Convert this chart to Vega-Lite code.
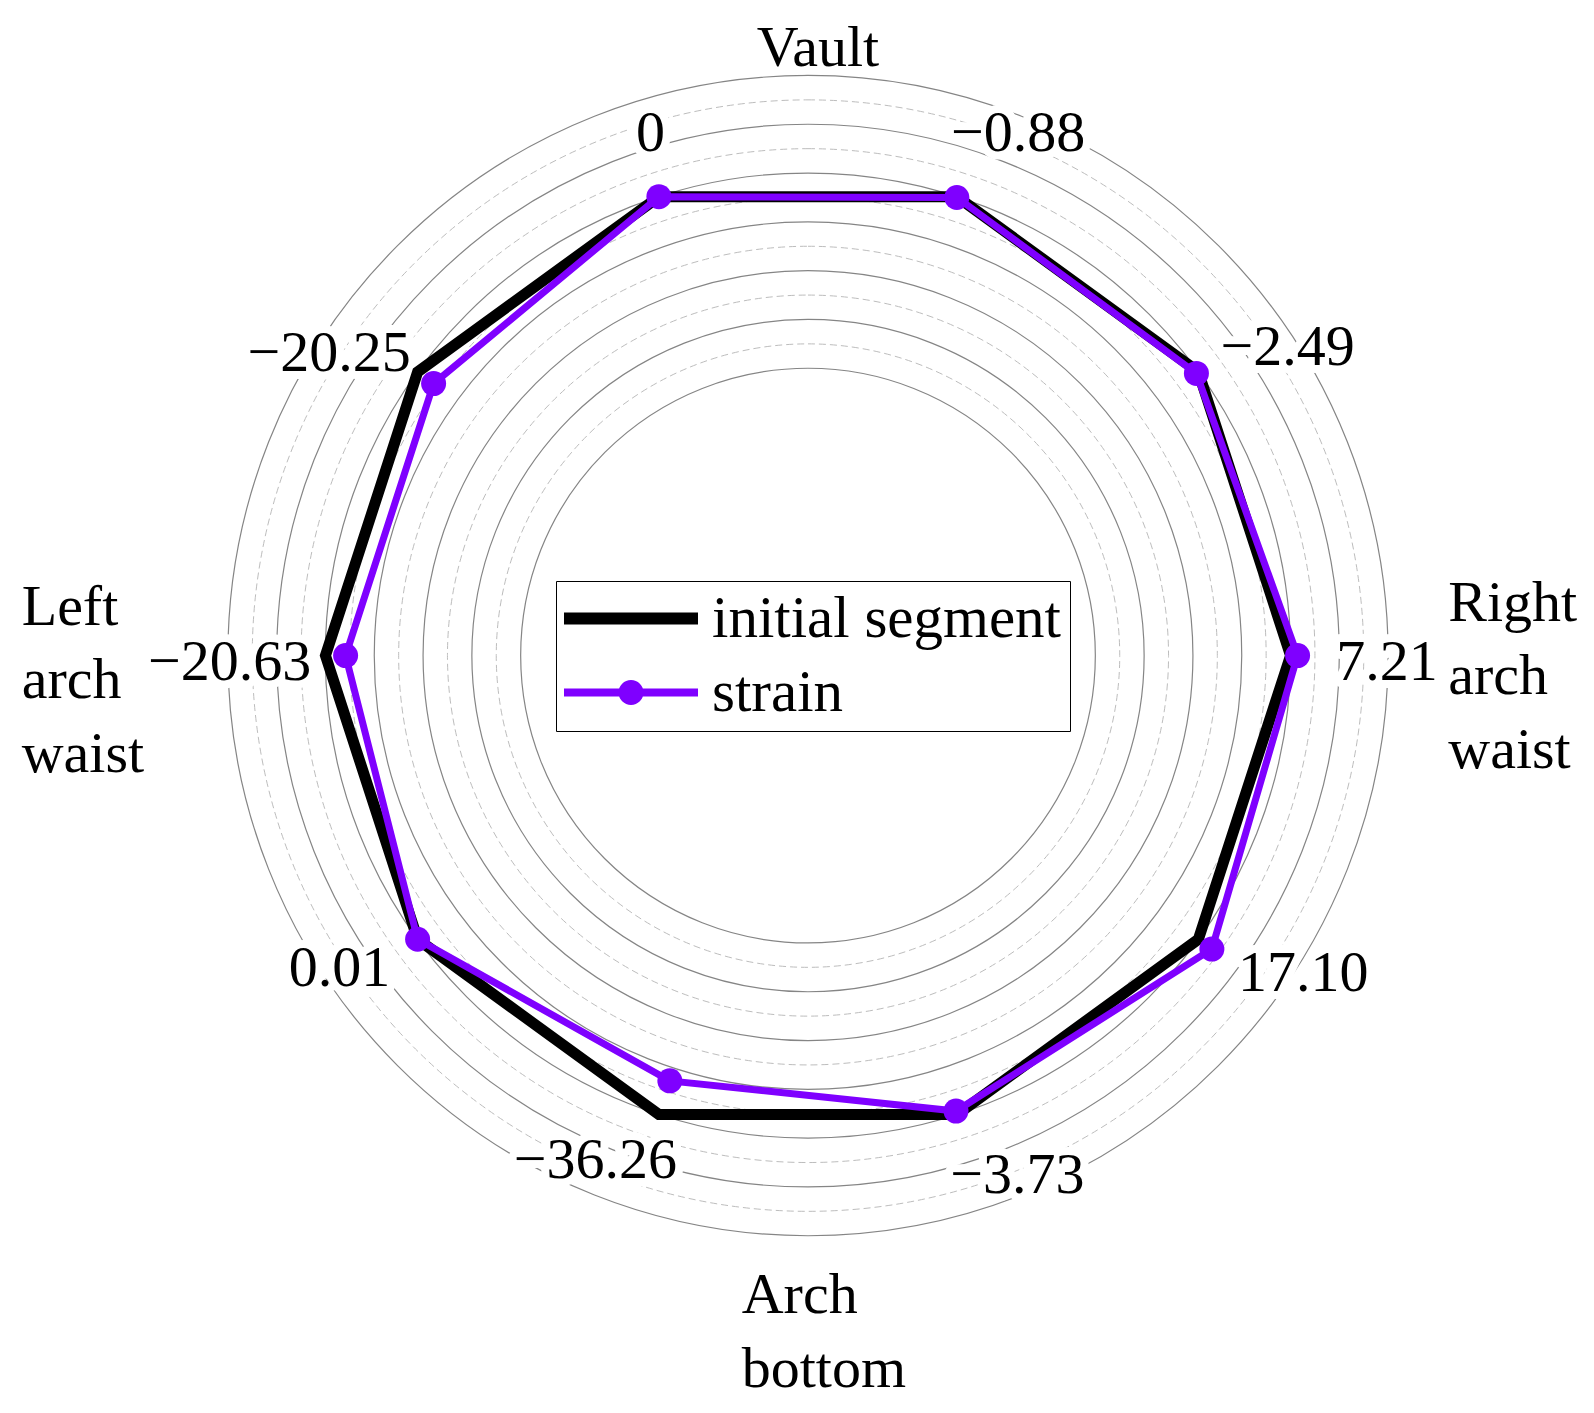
{
  "$schema": "https://vega.github.io/schema/vega-lite/v6.json",
  "width": 1594,
  "height": 1413,
  "padding": 0,
  "autosize": {"type": "none"},
  "background": "white",
  "config": {
    "view": {"stroke": null},
    "legend": {
      "orient": "none",
      "legendX": 556,
      "legendY": 581,
      "padding": 8,
      "strokeColor": "#000000",
      "symbolSize": 1600,
      "symbolOpacity": 1,
      "labelOffset": 89,
      "labelFont": "Liberation Serif",
      "labelFontSize": 59,
      "labelColor": "#000000",
      "labelLimit": 1000,
      "rowPadding": 14
    }
  },
  "datasets": {
    "pts": [
      {"series": "initial segment", "spoke": 0, "value": 0},
      {"series": "initial segment", "spoke": 1, "value": 0},
      {"series": "initial segment", "spoke": 2, "value": 0},
      {"series": "initial segment", "spoke": 3, "value": 0},
      {"series": "initial segment", "spoke": 4, "value": 0},
      {"series": "initial segment", "spoke": 5, "value": 0},
      {"series": "initial segment", "spoke": 6, "value": 0},
      {"series": "initial segment", "spoke": 7, "value": 0},
      {"series": "initial segment", "spoke": 8, "value": 0},
      {"series": "initial segment", "spoke": 9, "value": 0},
      {"series": "strain", "spoke": 0, "value": 0},
      {"series": "strain", "spoke": 1, "value": -0.88},
      {"series": "strain", "spoke": 2, "value": -2.49},
      {"series": "strain", "spoke": 3, "value": 7.21},
      {"series": "strain", "spoke": 4, "value": 17.10},
      {"series": "strain", "spoke": 5, "value": -3.73},
      {"series": "strain", "spoke": 6, "value": -36.26},
      {"series": "strain", "spoke": 7, "value": 0.01},
      {"series": "strain", "spoke": 8, "value": -20.63},
      {"series": "strain", "spoke": 9, "value": -20.25}
    ],
    "grid": [
      {"v": -200}, {"v": -175}, {"v": -150}, {"v": -125}, {"v": -100}, {"v": -75}, {"v": -50},
      {"v": -25}, {"v": 0}, {"v": 25}, {"v": 50}, {"v": 75}, {"v": 100}
    ],
    "cats": [
      {"name": "Vault", "dir": 0},
      {"name": "Right\narch\nwaist", "dir": 90},
      {"name": "Arch\nbottom", "dir": 180},
      {"name": "Left\narch\nwaist", "dir": 270}
    ]
  },
  "layer": [
    {
      "data": {"name": "grid"},
      "transform": [
        {"filter": "datum.v % 50 !== 0"},
        {"calculate": "datum.v + 494.4", "as": "ru"}
      ],
      "mark": {"type": "arc", "theta": 0, "theta2": 6.2832, "filled": false, "stroke": "#bdbdbd", "strokeWidth": 1, "strokeDash": [7, 4]},
      "encoding": {
        "x": {"datum": 0, "type": "quantitative", "scale": {"domain": [-827.87, 805.33], "nice": false, "zero": false}, "axis": null},
        "y": {"datum": 0, "type": "quantitative", "scale": {"domain": [-776.02, 671.72], "nice": false, "zero": false}, "axis": null},
        "radius": {"field": "ru", "type": "quantitative", "stack": null, "scale": {"type": "linear", "domain": [0, 1000], "range": [0, 976], "zero": true}}
      }
    },
    {
      "data": {"name": "grid"},
      "transform": [
        {"filter": "datum.v % 50 === 0"},
        {"calculate": "datum.v + 494.4", "as": "ru"}
      ],
      "mark": {"type": "arc", "theta": 0, "theta2": 6.2832, "filled": false, "stroke": "#858585", "strokeWidth": 1.2},
      "encoding": {
        "x": {"datum": 0, "type": "quantitative", "scale": {"domain": [-827.87, 805.33], "nice": false, "zero": false}, "axis": null},
        "y": {"datum": 0, "type": "quantitative", "scale": {"domain": [-776.02, 671.72], "nice": false, "zero": false}, "axis": null},
        "radius": {"field": "ru", "type": "quantitative", "stack": null, "scale": {"type": "linear", "domain": [0, 1000], "range": [0, 976], "zero": true}}
      }
    },
    {
      "data": {"name": "pts"},
      "transform": [
        {"filter": "datum.series === 'strain'"},
        {"calculate": "(datum.spoke*36-18)*PI/180", "as": "a"},
        {"calculate": "datum.value === 0 ? '0' : format(datum.value, '.2f')", "as": "label"},
        {"calculate": "0.976*(datum.value + 494.4)", "as": "rp"},
        {"calculate": "0.976*(0.5*datum.value + 494.4)", "as": "rq"},
        {"calculate": "sin(datum.a) > 0 ? 1 : -1", "as": "sg"},
        {"calculate": "(datum.rp*sin(datum.a) + datum.sg*(13.25*length(datum.label) + 60*abs(sin(datum.a)) - 23.5))/0.976", "as": "lx"},
        {"calculate": "(datum.rq*cos(datum.a) + cos(datum.a)*(14 + 55*abs(cos(datum.a))) - 7*pow(sin(datum.a), 4))/0.976", "as": "ly"}
      ],
      "mark": {"type": "text", "align": "center", "baseline": "middle", "font": "Liberation Serif", "fontSize": 58, "fill": "#ffffff", "stroke": "#ffffff", "strokeWidth": 16, "strokeJoin": "round"},
      "encoding": {
        "x": {"field": "lx", "type": "quantitative", "scale": {"domain": [-827.87, 805.33], "nice": false, "zero": false}, "axis": null},
        "y": {"field": "ly", "type": "quantitative", "scale": {"domain": [-776.02, 671.72], "nice": false, "zero": false}, "axis": null},
        "text": {"field": "label", "type": "nominal"}
      }
    },
    {
      "data": {"name": "cats"},
      "transform": [
        {"filter": "datum.dir === 0"},
        {"calculate": "600*sin(datum.dir*PI/180)", "as": "cx"},
        {"calculate": "600*cos(datum.dir*PI/180)", "as": "cy"}
      ],
      "mark": {"type": "text", "align": "center", "baseline": "alphabetic", "dx": 10, "dy": -4, "font": "Liberation Serif", "fontSize": 58, "fill": "#ffffff", "stroke": "#ffffff", "strokeWidth": 16, "strokeJoin": "round"},
      "encoding": {
        "x": {"field": "cx", "type": "quantitative", "scale": {"domain": [-827.87, 805.33], "nice": false, "zero": false}, "axis": null},
        "y": {"field": "cy", "type": "quantitative", "scale": {"domain": [-776.02, 671.72], "nice": false, "zero": false}, "axis": null},
        "text": {"field": "name", "type": "nominal"}
      }
    },
    {
      "data": {"name": "pts"},
      "transform": [
        {"filter": "datum.series === 'initial segment'"},
        {"calculate": "(datum.spoke*36-18)*PI/180", "as": "a"},
        {"calculate": "datum.value + 494.4", "as": "ru"},
        {"calculate": "datum.ru*sin(datum.a)", "as": "px"},
        {"calculate": "datum.ru*cos(datum.a)", "as": "py"}
      ],
      "mark": {"type": "line", "interpolate": "linear-closed", "color": "#000000", "strokeWidth": 11, "strokeJoin": "miter", "strokeCap": "butt"},
      "encoding": {
        "x": {"field": "px", "type": "quantitative", "scale": {"domain": [-827.87, 805.33], "nice": false, "zero": false}, "axis": null},
        "y": {"field": "py", "type": "quantitative", "scale": {"domain": [-776.02, 671.72], "nice": false, "zero": false}, "axis": null},
        "order": {"field": "spoke", "type": "quantitative"}
      }
    },
    {
      "data": {"name": "pts"},
      "transform": [
        {"filter": "datum.series === 'strain'"},
        {"calculate": "(datum.spoke*36-18)*PI/180", "as": "a"},
        {"calculate": "datum.value + 494.4", "as": "ru"},
        {"calculate": "datum.ru*sin(datum.a)", "as": "px"},
        {"calculate": "datum.ru*cos(datum.a)", "as": "py"}
      ],
      "mark": {"type": "line", "interpolate": "linear-closed", "color": "#7f00ff", "strokeWidth": 7, "strokeJoin": "miter", "strokeCap": "butt"},
      "encoding": {
        "x": {"field": "px", "type": "quantitative", "scale": {"domain": [-827.87, 805.33], "nice": false, "zero": false}, "axis": null},
        "y": {"field": "py", "type": "quantitative", "scale": {"domain": [-776.02, 671.72], "nice": false, "zero": false}, "axis": null},
        "order": {"field": "spoke", "type": "quantitative"}
      }
    },
    {
      "data": {"name": "pts"},
      "transform": [
        {"filter": "datum.series === 'strain'"},
        {"calculate": "(datum.spoke*36-18)*PI/180", "as": "a"},
        {"calculate": "datum.value + 494.4", "as": "ru"},
        {"calculate": "datum.ru*sin(datum.a)", "as": "px"},
        {"calculate": "datum.ru*cos(datum.a)", "as": "py"}
      ],
      "mark": {"type": "point", "shape": "circle", "filled": true, "color": "#7f00ff", "size": 625, "opacity": 1, "strokeWidth": 0},
      "encoding": {
        "x": {"field": "px", "type": "quantitative", "scale": {"domain": [-827.87, 805.33], "nice": false, "zero": false}, "axis": null},
        "y": {"field": "py", "type": "quantitative", "scale": {"domain": [-776.02, 671.72], "nice": false, "zero": false}, "axis": null}
      }
    },
    {
      "data": {"name": "pts"},
      "transform": [
        {"filter": "datum.spoke === 0"}
      ],
      "mark": {"type": "point", "filled": true, "opacity": 0, "size": 1600},
      "encoding": {
        "x": {"datum": 0, "type": "quantitative", "scale": {"domain": [-827.87, 805.33], "nice": false, "zero": false}, "axis": null},
        "y": {"datum": 0, "type": "quantitative", "scale": {"domain": [-776.02, 671.72], "nice": false, "zero": false}, "axis": null},
        "fill": {"field": "series", "type": "nominal", "scale": {"domain": ["initial segment", "strain"], "range": ["#000000", "#7f00ff"]}, "legend": {"title": null}},
        "stroke": {"field": "series", "type": "nominal", "scale": {"domain": ["initial segment", "strain"], "range": ["#000000", "#7f00ff"]}, "legend": {"title": null}},
        "shape": {"field": "series", "type": "nominal", "scale": {"domain": ["initial segment", "strain"], "range": ["M-1.475,0H5.225", "M-1.475,0H5.225M2.3,0A0.425,0.425,0,1,1,1.45,0A0.425,0.425,0,1,1,2.3,0Z"]}, "legend": {"title": null}},
        "strokeWidth": {"field": "series", "type": "ordinal", "scale": {"type": "ordinal", "domain": ["initial segment", "strain"], "range": [12, 8]}, "legend": {"title": null}}
      }
    },
    {
      "data": {"name": "pts"},
      "transform": [
        {"filter": "datum.series === 'strain'"},
        {"calculate": "(datum.spoke*36-18)*PI/180", "as": "a"},
        {"calculate": "datum.value === 0 ? '0' : format(datum.value, '.2f')", "as": "label"},
        {"calculate": "0.976*(datum.value + 494.4)", "as": "rp"},
        {"calculate": "0.976*(0.5*datum.value + 494.4)", "as": "rq"},
        {"calculate": "sin(datum.a) > 0 ? 1 : -1", "as": "sg"},
        {"calculate": "(datum.rp*sin(datum.a) + datum.sg*(13.25*length(datum.label) + 60*abs(sin(datum.a)) - 23.5))/0.976", "as": "lx"},
        {"calculate": "(datum.rq*cos(datum.a) + cos(datum.a)*(14 + 55*abs(cos(datum.a))) - 7*pow(sin(datum.a), 4))/0.976", "as": "ly"}
      ],
      "mark": {"type": "text", "align": "center", "baseline": "middle", "font": "Liberation Serif", "fontSize": 58, "color": "#000000"},
      "encoding": {
        "x": {"field": "lx", "type": "quantitative", "scale": {"domain": [-827.87, 805.33], "nice": false, "zero": false}, "axis": null},
        "y": {"field": "ly", "type": "quantitative", "scale": {"domain": [-776.02, 671.72], "nice": false, "zero": false}, "axis": null},
        "text": {"field": "label", "type": "nominal"}
      }
    },
    {
      "data": {"name": "cats"},
      "transform": [
        {"filter": "datum.dir === 0"},
        {"calculate": "600*sin(datum.dir*PI/180)", "as": "cx"},
        {"calculate": "600*cos(datum.dir*PI/180)", "as": "cy"}
      ],
      "mark": {"type": "text", "align": "center", "baseline": "alphabetic", "dx": 10, "dy": -4, "font": "Liberation Serif", "fontSize": 58, "lineHeight": 73.3, "lineBreak": "\n", "color": "#000000"},
      "encoding": {
        "x": {"field": "cx", "type": "quantitative", "scale": {"domain": [-827.87, 805.33], "nice": false, "zero": false}, "axis": null},
        "y": {"field": "cy", "type": "quantitative", "scale": {"domain": [-776.02, 671.72], "nice": false, "zero": false}, "axis": null},
        "text": {"field": "name", "type": "nominal"}
      }
    },
    {
      "data": {"name": "cats"},
      "transform": [
        {"filter": "datum.dir === 90"},
        {"calculate": "600*sin(datum.dir*PI/180)", "as": "cx"},
        {"calculate": "600*cos(datum.dir*PI/180)", "as": "cy"}
      ],
      "mark": {"type": "text", "align": "left", "baseline": "alphabetic", "dx": 54.7, "dy": -34.6, "font": "Liberation Serif", "fontSize": 58, "lineHeight": 73.3, "lineBreak": "\n", "color": "#000000"},
      "encoding": {
        "x": {"field": "cx", "type": "quantitative", "scale": {"domain": [-827.87, 805.33], "nice": false, "zero": false}, "axis": null},
        "y": {"field": "cy", "type": "quantitative", "scale": {"domain": [-776.02, 671.72], "nice": false, "zero": false}, "axis": null},
        "text": {"field": "name", "type": "nominal"}
      }
    },
    {
      "data": {"name": "cats"},
      "transform": [
        {"filter": "datum.dir === 180"},
        {"calculate": "600*sin(datum.dir*PI/180)", "as": "cx"},
        {"calculate": "600*cos(datum.dir*PI/180)", "as": "cy"}
      ],
      "mark": {"type": "text", "align": "left", "baseline": "alphabetic", "dx": -66.3, "dy": 72.1, "font": "Liberation Serif", "fontSize": 58, "lineHeight": 73.3, "lineBreak": "\n", "color": "#000000"},
      "encoding": {
        "x": {"field": "cx", "type": "quantitative", "scale": {"domain": [-827.87, 805.33], "nice": false, "zero": false}, "axis": null},
        "y": {"field": "cy", "type": "quantitative", "scale": {"domain": [-776.02, 671.72], "nice": false, "zero": false}, "axis": null},
        "text": {"field": "name", "type": "nominal"}
      }
    },
    {
      "data": {"name": "cats"},
      "transform": [
        {"filter": "datum.dir === 270"},
        {"calculate": "600*sin(datum.dir*PI/180)", "as": "cx"},
        {"calculate": "600*cos(datum.dir*PI/180)", "as": "cy"}
      ],
      "mark": {"type": "text", "align": "left", "baseline": "alphabetic", "dx": -200.7, "dy": -30.6, "font": "Liberation Serif", "fontSize": 58, "lineHeight": 73.3, "lineBreak": "\n", "color": "#000000"},
      "encoding": {
        "x": {"field": "cx", "type": "quantitative", "scale": {"domain": [-827.87, 805.33], "nice": false, "zero": false}, "axis": null},
        "y": {"field": "cy", "type": "quantitative", "scale": {"domain": [-776.02, 671.72], "nice": false, "zero": false}, "axis": null},
        "text": {"field": "name", "type": "nominal"}
      }
    }
  ]
}
